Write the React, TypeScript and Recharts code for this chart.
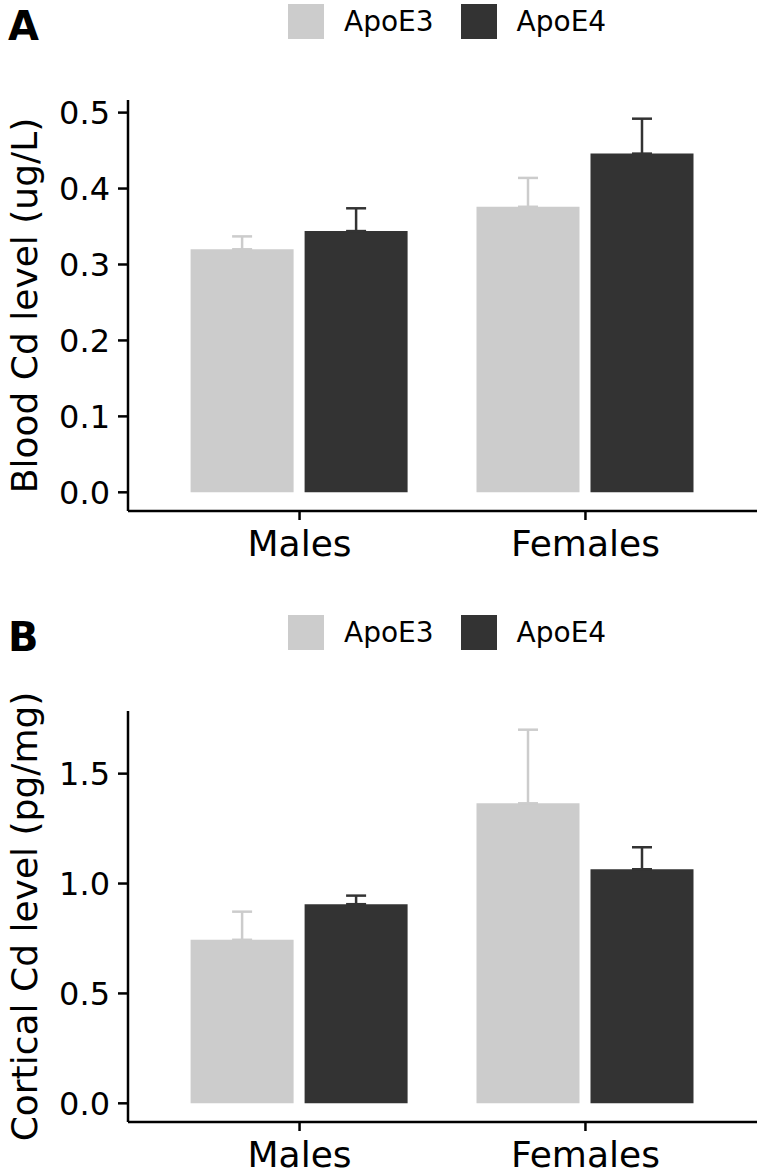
import React from 'react';
import { BarChart, Bar, XAxis, YAxis, ErrorBar, Legend } from 'recharts';

const groups = ['Males', 'Females'];
const genotypes = ['ApoE3', 'ApoE4'];
const colors = ['#CCCCCC', '#333333'];

// Panel A: blood Cd (ug/L), mean and SE
const bloodApoE3 = [0.32, 0.376];
const bloodApoE3Se = [0.017, 0.038];
const bloodApoE4 = [0.344, 0.446];
const bloodApoE4Se = [0.03, 0.046];
const bloodTicks = [0, 0.1, 0.2, 0.3, 0.4, 0.5];

// Panel B: cortical Cd (pg/mg), mean and SE
const cortexApoE3 = [0.744, 1.365];
const cortexApoE3Se = [0.128, 0.335];
const cortexApoE4 = [0.906, 1.065];
const cortexApoE4Se = [0.039, 0.1];
const cortexTicks = [0, 0.5, 1.0, 1.5];

const FONT = '"DejaVu Sans", sans-serif';

const buildRows = (e3: number[], e3se: number[], e4: number[], e4se: number[]) =>
  groups.map((g, i) => ({
    group: g,
    ApoE3: e3[i],
    e3err: [0, e3se[i]],
    ApoE4: e4[i],
    e4err: [0, e4se[i]],
  }));

// ggplot-style 5% expansion around [0, max(mean + se)]
const expandDomain = (rows: any[]) => {
  const top = Math.max(...rows.map(r => Math.max(r.ApoE3 + r.e3err[1], r.ApoE4 + r.e4err[1])));
  const pad = top * 0.05;
  return [-pad, top + pad];
};

const renderLegend = (props: any) => {
  const { payload } = props;
  return (
    <div style={{ display: 'flex', alignItems: 'center', height: 35, paddingLeft: 288, fontFamily: FONT, fontSize: 28, color: '#000' }}>
      {payload.map((entry: any) => (
        <div key={entry.value} style={{ display: 'flex', alignItems: 'center', marginRight: 27 }}>
          <div style={{ width: 36, height: 35, background: entry.color, marginRight: 20 }} />
          <span>{entry.value}</span>
        </div>
      ))}
    </div>
  );
};

interface PanelProps {
  letter: string;
  title: string;
  rows: any[];
  ticks: number[];
  top: number;
  height: number;
  marginBottom: number;
  xAxisHeight: number;
}

const Panel: React.FC<PanelProps> = ({ letter, title, rows, ticks, top, height, marginBottom, xAxisHeight }) => {
  const domain = expandDomain(rows);
  return (
    <div style={{ position: 'absolute', left: 0, top, width: 760, height }}>
      <div style={{ position: 'absolute', left: 8, top: 3, fontFamily: FONT, fontWeight: 'bold', fontSize: 40, lineHeight: '46px', color: '#000', zIndex: 2 }}>
        {letter}
      </div>
      <BarChart
        width={760}
        height={height}
        data={rows}
        margin={{ top: 100, right: 3, bottom: marginBottom, left: 0 }}
        barSize={103}
        barGap={11}
      >
        <XAxis
          dataKey="group"
          height={xAxisHeight}
          padding={{ left: 28.6, right: 28.6 }}
          axisLine={{ stroke: '#000', strokeWidth: 2.5 }}
          tickLine={{ stroke: '#000', strokeWidth: 2.5 }}
          tickSize={9}
          tickMargin={10}
          tick={{ fill: '#000', fontSize: 36, fontFamily: FONT }}
        />
        <YAxis
          type="number"
          width={128}
          domain={domain}
          allowDataOverflow
          ticks={ticks}
          tickFormatter={(v: number) => v.toFixed(1)}
          axisLine={{ stroke: '#000', strokeWidth: 2.5 }}
          tickLine={{ stroke: '#000', strokeWidth: 2.5 }}
          tickSize={10}
          tickMargin={8}
          tick={{ fill: '#000', fontSize: 32, fontFamily: FONT }}
          label={{
            value: title,
            angle: -90,
            position: 'insideLeft',
            offset: 24,
            style: { textAnchor: 'middle', fill: '#000', fontSize: 36, fontFamily: FONT },
          }}
        />
        <Legend
          layout="horizontal"
          verticalAlign="middle"
          align="center"
          wrapperStyle={{ top: 4, left: 0, width: 760 }}
          content={renderLegend}
        />
        <Bar dataKey="ApoE3" name={genotypes[0]} fill={colors[0]} isAnimationActive={false}>
          <ErrorBar dataKey="e3err" direction="y" width={10} stroke={colors[0]} strokeWidth={2.5} isAnimationActive={false} />
        </Bar>
        <Bar dataKey="ApoE4" name={genotypes[1]} fill={colors[1]} isAnimationActive={false}>
          <ErrorBar dataKey="e4err" direction="y" width={10} stroke={colors[1]} strokeWidth={2.5} isAnimationActive={false} />
        </Bar>
      </BarChart>
    </div>
  );
};

const App: React.FC = () => {
  const bloodRows = buildRows(bloodApoE3, bloodApoE3Se, bloodApoE4, bloodApoE4Se);
  const cortexRows = buildRows(cortexApoE3, cortexApoE3Se, cortexApoE4, cortexApoE4Se);
  return (
    <div style={{ position: 'absolute', left: 0, top: 0, width: 760, height: 1174, background: '#fff', overflow: 'hidden' }}>
      <Panel letter="A" title="Blood Cd level (ug/L)" rows={bloodRows} ticks={bloodTicks} top={0} height={611} marginBottom={50} xAxisHeight={50} />
      <Panel letter="B" title="Cortical Cd level (pg/mg)" rows={cortexRows} ticks={cortexTicks} top={611} height={563} marginBottom={0} xAxisHeight={52} />
    </div>
  );
};

export default App;
